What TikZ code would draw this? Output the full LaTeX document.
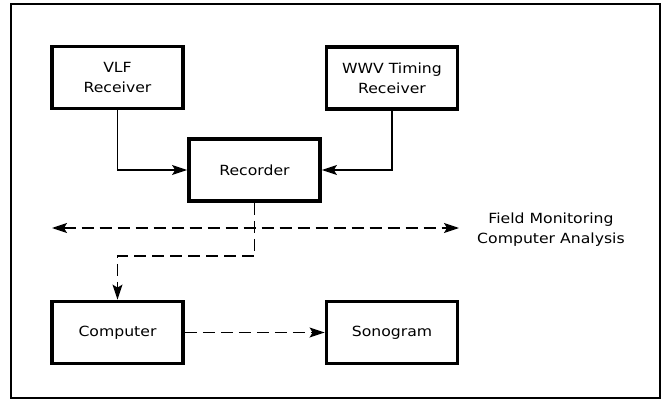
\documentclass[tikz,border=0pt]{standalone}
\usepackage{fontspec}
\newfontfamily\plotfont{DejaVu Sans}[FakeStretch=1.12]
\usetikzlibrary{arrows.meta}
\begin{document}
\begin{tikzpicture}[x=1pt,y=-1pt,
  blk/.style={draw,line width=3.8pt,minimum width=131pt,minimum height=62pt,
    align=center,font=\plotfont\fontsize{14}{20}\selectfont,inner sep=0pt},
  lbl/.style={align=center,font=\plotfont\fontsize{14}{20}\selectfont,inner sep=0pt},
  conn/.style={line width=1.3pt,-{Stealth[length=15pt,width=10pt,inset=3pt]}},
  dconn/.style={conn,dash pattern=on 12pt off 6pt},
  frame/.style={line width=2pt}]
\useasboundingbox (0,0) rectangle (667,401);
\draw[frame] (10.5,4.5) rectangle (660,398);
\node[blk] (vlf) at (117.5,77.5) {VLF\\Receiver};
\node[blk] (wwv) at (392,78) {WWV Timing\\Receiver};
\node[blk] (rec) at (254.5,170) {Recorder};
\node[blk] (comp) at (117.5,332.5) {Computer};
\node[blk] (son) at (392,332.5) {Sonogram};
\node[lbl] (fm) at (551,230) {Field Monitoring\\Computer Analysis};
\coordinate (hl) at (52,228);
\coordinate (hr) at (459,228);
\coordinate (bend) at (254.5,256);
\draw[conn] (vlf.south) |- (rec.west);
\draw[conn] (wwv.south) |- (rec.east);
\draw[dconn] (rec.south) -- (bend) -| (comp.north);
\draw[dconn,{Stealth[length=15pt,width=10pt,inset=3pt]}-{Stealth[length=15pt,width=10pt,inset=3pt]}] (hl) -- (hr);
\draw[dconn] (comp.east) -- (son.west);
\end{tikzpicture}
\end{document}
